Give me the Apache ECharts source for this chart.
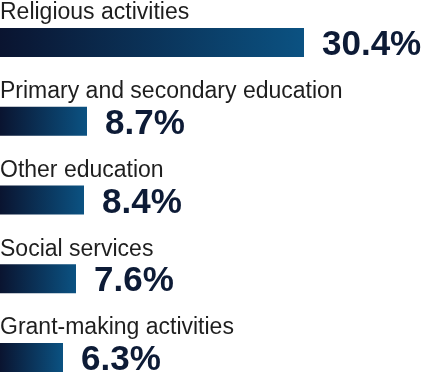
<!DOCTYPE html>
<html>
<head>
<meta charset="utf-8">
<script src="https://cdn.jsdelivr.net/npm/echarts@6/dist/echarts.min.js"></script>
<style>
  html, body { margin: 0; padding: 0; background: #fff; }
  #chart { width: 425px; height: 377px; }
</style>
</head>
<body>
<div id="chart"></div>
<script>
const categories = [
  "Religious activities",
  "Primary and secondary education",
  "Other education",
  "Social services",
  "Grant-making activities"
];
const shares = [30.4, 8.7, 8.4, 7.6, 6.3];

const myChart = echarts.init(document.getElementById("chart"));

const barColor = new echarts.graphic.LinearGradient(0, 0, 1, 0, [
  { offset: 0, color: "#0a1430" },
  { offset: 1, color: "#0b5282" }
]);

const option = {
  animation: false,
  grid: { left: 0, right: 0, top: 42.5, bottom: 19.5, outerBoundsMode: "none", containLabel: false },
  xAxis: { type: "value", min: 0, max: 42.5, show: false },
  yAxis: {
    type: "category",
    inverse: true,
    boundaryGap: false,
    data: categories,
    axisLine: { show: false },
    axisTick: { show: false },
    axisLabel: {
      inside: true,
      margin: 0,
      align: "left",
      verticalAlign: "bottom",
      padding: [0, 0, 18, 0],
      fontFamily: "Liberation Sans, Arial, sans-serif",
      fontSize: 23,
      color: "#1e1e1e"
    }
  },
  series: [
    {
      type: "bar",
      data: shares,
      barWidth: 29,
      itemStyle: { color: barColor },
      label: {
        show: true,
        position: "right",
        distance: 18,
        offset: [0, 3],
        formatter: "{c}%",
        fontFamily: "Liberation Sans, Arial, sans-serif",
        fontSize: 35,
        fontWeight: "bold",
        color: "#0d1b36"
      }
    }
  ]
};

myChart.setOption(option);
</script>
</body>
</html>
